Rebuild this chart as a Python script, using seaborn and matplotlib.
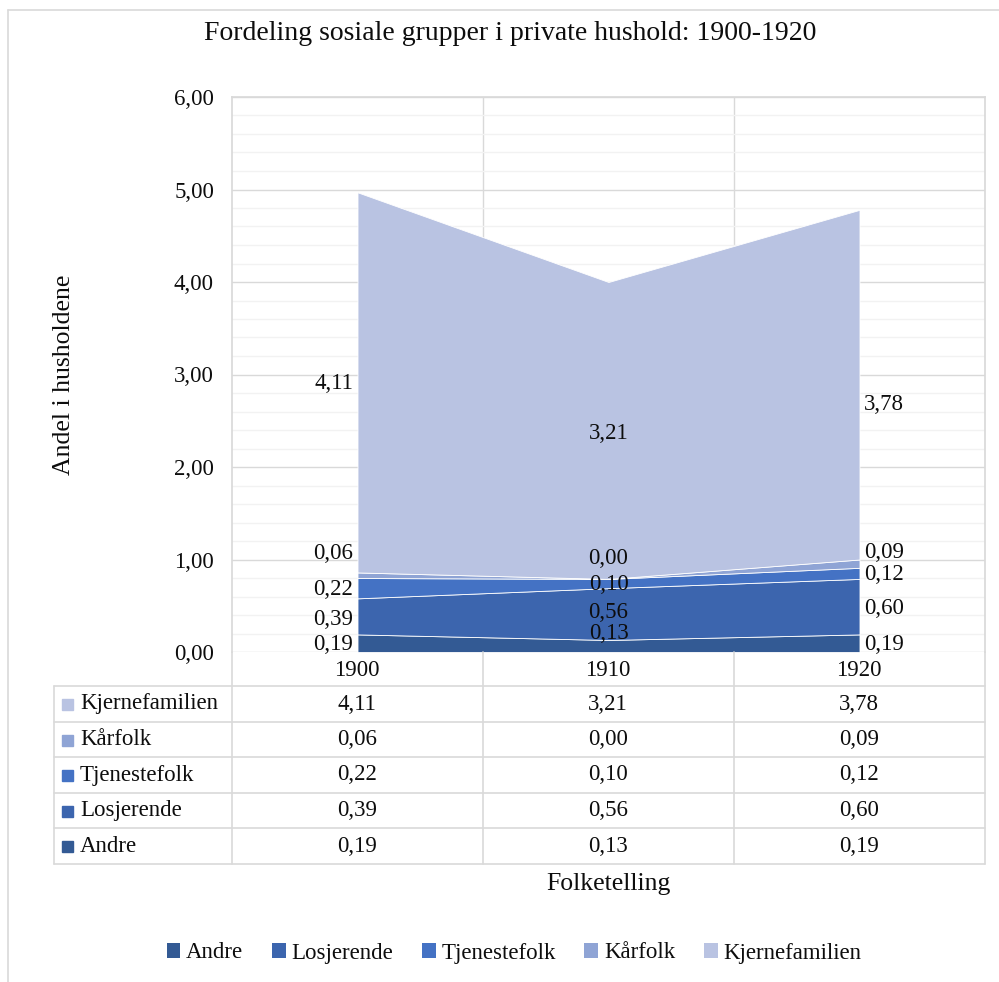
import matplotlib
matplotlib.use("Agg")
import matplotlib.pyplot as plt
from matplotlib.patches import Patch, Rectangle
from matplotlib.lines import Line2D
import seaborn as sns

# --- data ---
years = ["1900", "1910", "1920"]
groups = ["Andre", "Losjerende", "Tjenestefolk", "Kårfolk", "Kjernefamilien"]
andre = [0.19, 0.13, 0.19]
losjerende = [0.39, 0.56, 0.60]
tjenestefolk = [0.22, 0.10, 0.12]
karfolk = [0.06, 0.00, 0.09]
kjernefamilien = [4.11, 3.21, 3.78]
series = [andre, losjerende, tjenestefolk, karfolk, kjernefamilien]
colors = ["#335A94", "#3C65AE", "#4472C4", "#8FA4D5", "#B9C3E2"]

sns.set_theme(style="white")
plt.rcParams["font.family"] = ["Liberation Serif", "DejaVu Serif"]
plt.rcParams["text.color"] = "#0D0D0D"
plt.rcParams["axes.labelcolor"] = "#0D0D0D"
plt.rcParams["ytick.color"] = "#0D0D0D"
FS = 16.5

def fmt(v):
    return f"{v:.2f}".replace(".", ",")

W, H = 999, 982
fig = plt.figure(figsize=(W / 100, H / 100), dpi=100)

def fx(px):
    return px / W

def fy(py):
    return 1 - py / H

# plot area
L, R, T, B = 232, 985, 97, 652
ax = fig.add_axes([fx(L), fy(B), fx(R) - fx(L), fy(T) - fy(B)])
x = list(range(len(years)))
ax.stackplot(x, *series, colors=colors, edgecolor="white", linewidth=0.6, zorder=3)
ax.set_xlim(-0.5, 2.5)
ax.set_ylim(0, 6)
ax.set_yticks([0, 1, 2, 3, 4, 5, 6])
ax.set_yticklabels([fmt(v) for v in range(7)], fontsize=FS)
ax.set_yticks([i * 0.2 for i in range(31)], minor=True)
ax.set_xticks([0.5, 1.5])
ax.set_xticklabels([])
ax.tick_params(axis="both", length=0, pad=13)
ax.grid(True, which="minor", axis="y", color="#F2F2F2", lw=1.0, zorder=0)
ax.grid(True, which="major", axis="y", color="#D9D9D9", lw=1.0, zorder=1)
ax.grid(True, which="major", axis="x", color="#D9D9D9", lw=1.0, zorder=1)
for s in ["left", "right", "top"]:
    ax.spines[s].set_color("#D9D9D9")
ax.spines["bottom"].set_visible(False)
ax.set_ylabel("Andel i husholdene", fontsize=18.5, labelpad=71)

# data labels (vertical nudge in points, series order Andre..Kjernefamilien)
nudge = [
    [0, -1, 0, 17, 0],
    [10, 2, 0, 16, -1],
    [0, 0, 0, 9, -13],
]
for i in x:
    base = 0
    for j, s in enumerate(series):
        mid = base + s[i] / 2
        if i == 0:
            dx, ha = -3, "right"
        elif i == 1:
            dx, ha = 0, "center"
        else:
            dx, ha = 3, "left"
        ax.annotate(fmt(s[i]), (i, mid), xytext=(dx, nudge[i][j] - 1),
                    textcoords="offset points", ha=ha, va="center",
                    fontsize=FS, zorder=5)
        base += s[i]

# data table
TL = 54
rows_y = [686, 722, 757, 793, 828, 864]
col_x = [232, 483, 734, 985]
centers = [357, 608, 859]
line_c = "#D9D9D9"
for cx in col_x:
    fig.add_artist(Line2D([fx(cx), fx(cx)], [fy(B), fy(rows_y[-1])], color=line_c, lw=1.2))
fig.add_artist(Line2D([fx(TL), fx(TL)], [fy(rows_y[0]), fy(rows_y[-1])], color=line_c, lw=1.2))
for ry in rows_y:
    fig.add_artist(Line2D([fx(TL), fx(R)], [fy(ry), fy(ry)], color=line_c, lw=1.2))
for k, c in enumerate(centers):
    fig.text(fx(c), fy((B + rows_y[0]) / 2 + 1), years[k], ha="center", va="center", fontsize=FS)
table_order = list(range(len(groups)))[::-1]
for r, j in enumerate(table_order):
    yc = (rows_y[r] + rows_y[r + 1]) / 2
    fig.add_artist(Rectangle((fx(62), fy(yc + 6)), fx(11), fy(0) - fy(11),
                             color=colors[j], transform=fig.transFigure))
    fig.text(fx(80), fy(yc), groups[j], ha="left", va="center", fontsize=FS)
    for k, c in enumerate(centers):
        fig.text(fx(c), fy(yc), fmt(series[j][k]), ha="center", va="center", fontsize=FS)

fig.text(fx(608), fy(884), "Folketelling", ha="center", va="center", fontsize=18.5)
fig.text(fx(510), fy(33), "Fordeling sosiale grupper i private hushold: 1900-1920",
         ha="center", va="center", fontsize=20)

handles = [Patch(facecolor=c, edgecolor="none") for c in colors]
fig.legend(handles, groups, loc="center", bbox_to_anchor=(fx(514), fy(953)),
           ncol=5, frameon=False, fontsize=FS, handlelength=0.6, handleheight=0.6,
           handletextpad=0.25, columnspacing=1.25)

# chart frame
fig.add_artist(Line2D([fx(8), fx(8)], [fy(10), 0], color=line_c, lw=1.2))
fig.add_artist(Line2D([fx(8), 1], [fy(10), fy(10)], color=line_c, lw=1.2))

fig.savefig("out.png", dpi=100)
